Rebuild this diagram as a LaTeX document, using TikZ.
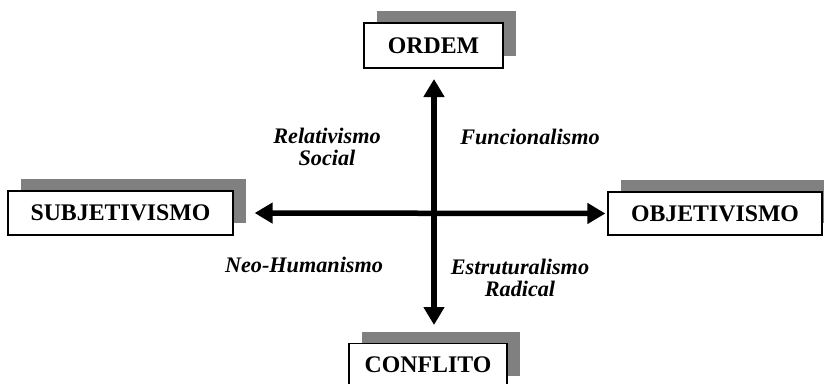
\documentclass[tikz,border=0pt]{standalone}
\usepackage{fontspec}
\setmainfont{Liberation Serif}
\usetikzlibrary{arrows.meta,shadows}
\begin{document}
\begin{tikzpicture}[x=1pt,y=-1pt,
  boxnode/.style={draw=black, line width=1.3pt, fill=white, inner sep=0pt,
    font=\fontsize{23.8}{26}\selectfont\bfseries,
    drop shadow={shadow xshift=13pt, shadow yshift=12pt, fill=gray!100!black, fill opacity=1, opacity=1, draw=none, color=gray}},
  lab/.style={align=center, inner sep=0pt, font=\fontsize{22.2}{22.5}\selectfont\bfseries\itshape},
  axis/.style={line width=5.5pt, {Triangle[length=18pt,width=20pt]}-{Triangle[length=18pt,width=20pt]}}
]
\useasboundingbox (0,0) rectangle (824,383);
\node[boxnode, minimum width=139pt, minimum height=45pt] (ordem) at (433.5,45.5) {ORDEM};
\node[boxnode, minimum width=225pt, minimum height=44pt] (subj) at (120.5,213) {SUBJETIVISMO};
\node[boxnode, minimum width=214pt, minimum height=43pt] (obj) at (715,213.5) {OBJETIVISMO};
\node[boxnode, minimum width=158pt, minimum height=44pt, anchor=north] (conf) at (428,343) {\raisebox{3pt}{CONFLITO}};
\draw[axis, shorten <=21pt, shorten >=2pt] (subj.east) -- (obj.west);
\coordinate (vt) at (434,68);
\coordinate (vb) at (434,343);
\draw[axis, shorten <=11pt, shorten >=18pt] (vt) -- (vb);
\node[lab] (rel) at (327,147) {Relativismo\\Social};
\node[lab] (fun) at (530,137) {Funcionalismo};
\node[lab] (neo) at (304,265) {Neo-Humanismo};
\node[lab] (est) at (520,278) {Estruturalismo\\Radical};
\end{tikzpicture}
\end{document}
